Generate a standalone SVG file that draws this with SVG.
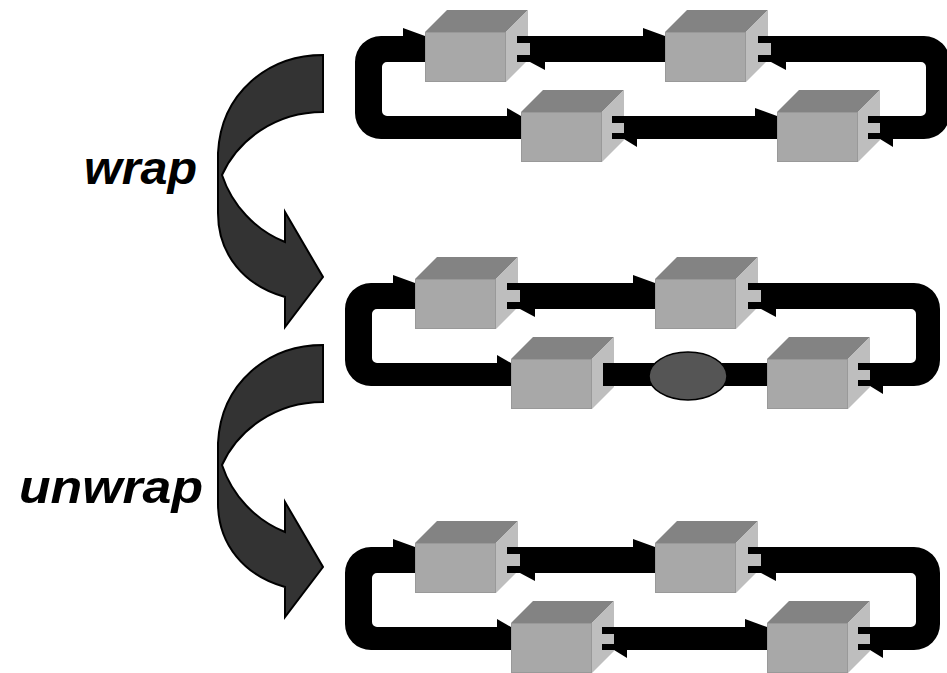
<svg xmlns="http://www.w3.org/2000/svg" xmlns:xlink="http://www.w3.org/1999/xlink" width="947" height="673" viewBox="0 0 947 673">
<style>
.ring{fill:#000;fill-rule:evenodd}
.front{fill:#a8a8a8;stroke:#999;stroke-width:1}
.top{fill:#838383}
.side{fill:#bebebe}
.plug{fill:#000}
.notch{fill:#bebebe}
.barb{fill:#000}
.bend{fill:#333;stroke:#000;stroke-width:2;stroke-linejoin:miter}
.lbl{font-family:"Liberation Sans",Arial,sans-serif;font-weight:bold;font-style:italic;font-size:46px;fill:#000}
.token{fill:#555;stroke:#000;stroke-width:1.5}
</style>
<defs>
<path id="ringShape" class="ring" d="M26,0 H569 A26,26 0 0 1 595,26 V77 A26,26 0 0 1 569,103 H26 A26,26 0 0 1 0,77 V26 A26,26 0 0 1 26,0 Z M32,26 H566 A5,5 0 0 1 571,31 V75 A5,5 0 0 1 566,80 H32 A5,5 0 0 1 27,75 V31 A5,5 0 0 1 32,26 Z"/>
<g id="cube">
<polygon class="top" points="0,0 22,-22 103,-22 81,0"/>
<polygon class="side" points="81,0 103,-22 103,28 81,50"/>
<rect class="front" x="0.5" y="0.5" width="80" height="49"/>
</g>
<path id="bendArrow" class="bend" d="M323,55 C268,55 221,93 218,153 L218,213 C218,255 245,286 285,297 L285,327 L323,277 L285,212 L285,242 C255,230 232,205 222,175 C238,140 275,112 323,112 Z"/>
</defs>

<!-- transition arrows and labels -->
<g id="wrap-arrow"><use xlink:href="#bendArrow"/></g>
<g id="unwrap-arrow"><use xlink:href="#bendArrow" transform="translate(0,290)"/></g>
<g id="wrap-label"><text class="lbl" x="84" y="184" textLength="113" lengthAdjust="spacingAndGlyphs">wrap</text></g>
<g id="unwrap-label"><text class="lbl" x="19" y="503" textLength="184" lengthAdjust="spacingAndGlyphs">unwrap</text></g>

<!-- connectors (rings) -->
<g id="connectors">
<use xlink:href="#ringShape" transform="translate(355,36)"/>
<use xlink:href="#ringShape" transform="translate(345,283)"/>
<use xlink:href="#ringShape" transform="translate(345,547)"/>
</g>

<!-- Row 1 nodes -->
<g id="r1-nodeA"><use xlink:href="#cube" transform="translate(425,32)"/></g>
<g id="r1-nodeB"><use xlink:href="#cube" transform="translate(665,32)"/></g>
<g id="r1-nodeC"><use xlink:href="#cube" transform="translate(521,112)"/></g>
<g id="r1-nodeD"><use xlink:href="#cube" transform="translate(777,112)"/></g>

<!-- Row 2 nodes -->
<g id="r2-nodeA"><use xlink:href="#cube" transform="translate(415,279)"/></g>
<g id="r2-nodeB"><use xlink:href="#cube" transform="translate(655,279)"/></g>
<g id="r2-nodeC"><use xlink:href="#cube" transform="translate(511,359)"/></g>
<g id="r2-nodeD"><use xlink:href="#cube" transform="translate(767,359)"/></g>

<!-- Row 3 nodes -->
<g id="r3-nodeA"><use xlink:href="#cube" transform="translate(415,543)"/></g>
<g id="r3-nodeB"><use xlink:href="#cube" transform="translate(655,543)"/></g>
<g id="r3-nodeC"><use xlink:href="#cube" transform="translate(511,623)"/></g>
<g id="r3-nodeD"><use xlink:href="#cube" transform="translate(767,623)"/></g>

<!-- plugs and arrowheads -->
<g id="r1-ends" transform="translate(355,36)">
<rect class="plug" x="162" y="0" width="14" height="26"/><rect class="notch" x="162" y="7" width="13" height="12"/>
<rect class="plug" x="403" y="0" width="14" height="26"/><rect class="notch" x="403" y="7" width="13" height="12"/>
<rect class="plug" x="257" y="80" width="14" height="23"/><rect class="notch" x="257" y="87" width="12" height="10"/>
<rect class="plug" x="513" y="80" width="14" height="23"/><rect class="notch" x="513" y="87" width="12" height="10"/>
<polygon class="barb" points="48,-8 70,0 48,0"/>
<polygon class="barb" points="175,26 190,34 190,26"/>
<polygon class="barb" points="288,-8 310,0 288,0"/>
<polygon class="barb" points="416,26 431,34 431,26"/>
<polygon class="barb" points="152,72 166,80 152,80"/>
<polygon class="barb" points="269,103 282,111 282,103"/>
<polygon class="barb" points="400,72 422,80 400,80"/>
<polygon class="barb" points="525,103 538,111 538,103"/>
</g>
<g id="r2-ends" transform="translate(345,283)">
<rect class="plug" x="162" y="0" width="14" height="26"/><rect class="notch" x="162" y="7" width="13" height="12"/>
<rect class="plug" x="403" y="0" width="14" height="26"/><rect class="notch" x="403" y="7" width="13" height="12"/>
<rect class="plug" x="258" y="80" width="14" height="23"/>
<rect class="plug" x="513" y="80" width="14" height="23"/><rect class="notch" x="513" y="87" width="12" height="10"/>
<polygon class="barb" points="48,-8 70,0 48,0"/>
<polygon class="barb" points="175,26 190,34 190,26"/>
<polygon class="barb" points="288,-8 310,0 288,0"/>
<polygon class="barb" points="416,26 431,34 431,26"/>
<polygon class="barb" points="152,72 166,80 152,80"/>
<polygon class="barb" points="525,103 538,111 538,103"/>
</g>
<g id="r2-wrap-token"><ellipse class="token" cx="688" cy="376" rx="39" ry="24"/></g>
<g id="r3-ends" transform="translate(345,547)">
<rect class="plug" x="162" y="0" width="14" height="26"/><rect class="notch" x="162" y="7" width="13" height="12"/>
<rect class="plug" x="403" y="0" width="14" height="26"/><rect class="notch" x="403" y="7" width="13" height="12"/>
<rect class="plug" x="257" y="80" width="14" height="23"/><rect class="notch" x="257" y="87" width="12" height="10"/>
<rect class="plug" x="513" y="80" width="14" height="23"/><rect class="notch" x="513" y="87" width="12" height="10"/>
<polygon class="barb" points="48,-8 70,0 48,0"/>
<polygon class="barb" points="175,26 190,34 190,26"/>
<polygon class="barb" points="288,-8 310,0 288,0"/>
<polygon class="barb" points="416,26 431,34 431,26"/>
<polygon class="barb" points="152,72 166,80 152,80"/>
<polygon class="barb" points="269,103 282,111 282,103"/>
<polygon class="barb" points="400,72 422,80 400,80"/>
<polygon class="barb" points="525,103 538,111 538,103"/>
</g>
</svg>
